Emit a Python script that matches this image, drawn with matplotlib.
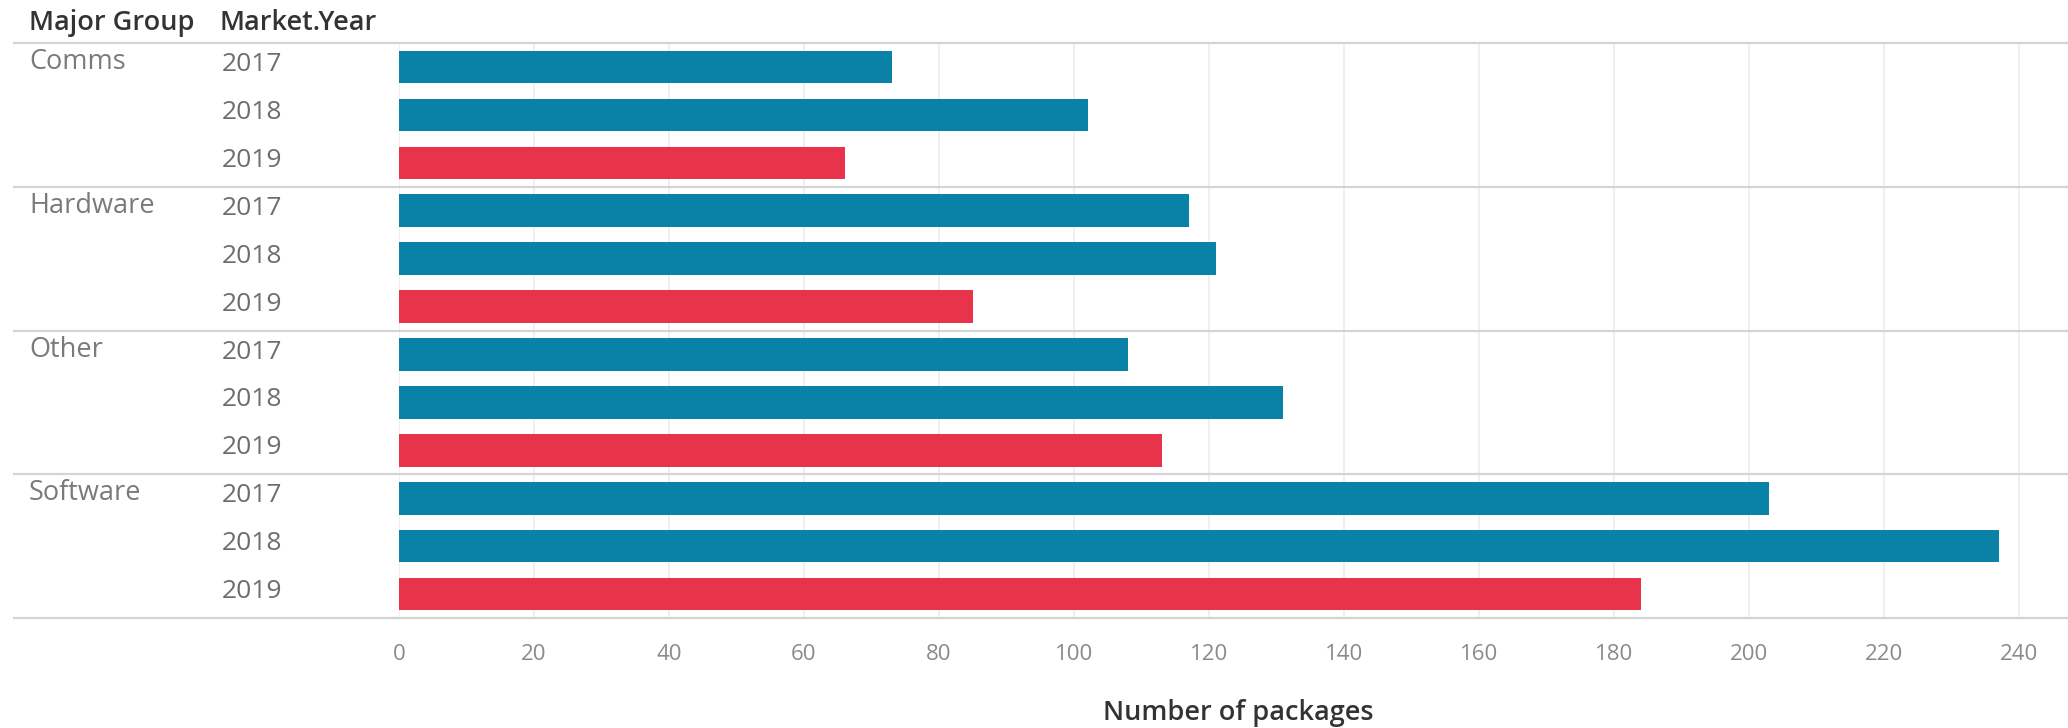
import matplotlib
matplotlib.use("Agg")
import matplotlib.pyplot as plt
from matplotlib.transforms import blended_transform_factory
from matplotlib.lines import Line2D

# Data
groups = ["Comms", "Hardware", "Other", "Software"]
years = ["2017", "2018", "2019"]
comms = [73, 102, 66]
hardware = [117, 121, 85]
other = [108, 131, 113]
software = [203, 237, 184]
x_ticks = list(range(0, 241, 20))

values = [comms, hardware, other, software]

BLUE = "#0A82A8"
RED = "#E8344A"
FONT = "Open Sans"

W, H = 2068, 728
fig = plt.figure(figsize=(W / 100, H / 100), dpi=100)
fig.patch.set_facecolor("white")

# Plot area in pixel terms
left_px, top_px, bottom_px = 399, 43, 618
ax = fig.add_axes([left_px / W, 1 - bottom_px / H, (W - left_px) / W,
                   (bottom_px - top_px) / H])

n_rows = len(groups) * len(years)
for gi, g in enumerate(groups):
    for yi, yr in enumerate(years):
        r = gi * len(years) + yi
        color = RED if yr == "2019" else BLUE
        ax.barh(r, values[gi][yi], height=0.68, color=color, zorder=3)

ax.set_ylim(n_rows - 0.5, -0.5)
ax.set_xlim(0, (W - left_px) / 6.75)
ax.set_xticks(x_ticks)
ax.set_xticklabels([str(t) for t in x_ticks], fontsize=16, color="#8a8a8a",
                   family=FONT)
ax.tick_params(axis="x", length=0, pad=19)
ax.set_yticks([])
for s in ax.spines.values():
    s.set_visible(False)
ax.grid(axis="x", color="#ececec", linewidth=1.2, zorder=0)

# Row headers and separators
tr = blended_transform_factory(fig.transFigure, ax.transData)
for gi, g in enumerate(groups):
    base = gi * len(years)
    ax.text(29 / W, base - 0.1, g, transform=tr, fontsize=19.5, color="#7a7a7a",
            family=FONT, va="center", ha="left", clip_on=False)
    for yi, yr in enumerate(years):
        ax.text(222 / W, base + yi - 0.05, yr, transform=tr, fontsize=19,
                color="#6e6e6e", family=FONT, va="center", ha="left",
                clip_on=False)

for yline in [-0.5, 2.5, 5.5, 8.5, 11.5]:
    ax.add_line(Line2D([14 / W, 1.0], [yline, yline], transform=tr,
                       color="#d4d4d4", linewidth=1.6, clip_on=False, zorder=4))

# Column headers
fig.text(29 / W, 1 - 23 / H, "Major Group", fontsize=19.5, fontweight="semibold",
         color="#333333", family=FONT, va="center", ha="left")
fig.text(220 / W, 1 - 23 / H, "Market.Year", fontsize=19.5, fontweight="semibold",
         color="#333333", family=FONT, va="center", ha="left")

# Axis title
fig.text(1238 / W, 1 - 713 / H, "Number of packages", fontsize=19.5,
         fontweight="semibold", color="#333333", family=FONT,
         va="center", ha="center")

fig.savefig("out.png", dpi=100, facecolor="white")
